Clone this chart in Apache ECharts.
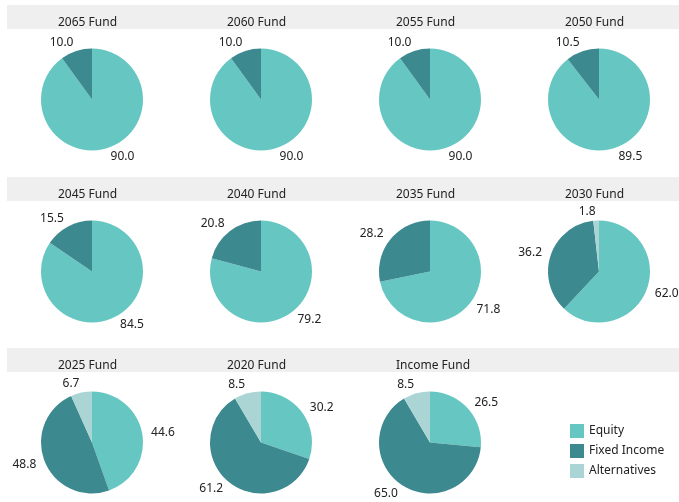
<!DOCTYPE html>
<html>
<head>
<meta charset="utf-8">
<script src="https://cdn.jsdelivr.net/npm/echarts@6/dist/echarts.min.js"></script>
<style>
html,body{margin:0;padding:0;background:#fff;}
#chart{width:679px;height:502px;}
</style>
</head>
<body>
<div id="chart"></div>
<script>
var funds = ['2065 Fund','2060 Fund','2055 Fund','2050 Fund','2045 Fund','2040 Fund','2035 Fund','2030 Fund','2025 Fund','2020 Fund','Income Fund'];
var equity = [90.0, 90.0, 90.0, 89.5, 84.5, 79.2, 71.8, 62.0, 44.6, 30.2, 26.5];
var fixedIncome = [10.0, 10.0, 10.0, 10.5, 15.5, 20.8, 28.2, 36.2, 48.8, 61.2, 65.0];
var alternatives = [0, 0, 0, 0, 0, 0, 0, 1.8, 6.7, 8.5, 8.5];
var assetClasses = ['Equity','Fixed Income','Alternatives'];
var colors = ['#66c7c2','#3d8990','#aad5d4'];

var chart = echarts.init(document.getElementById('chart'));
var font = 'Noto Sans';
var colX = [92, 261, 430, 599];
var rowY = [99.5, 271.5, 442.5];
var bandY = [5, 177, 348];

var series = [];
var titles = [];
var graphics = [];
bandY.forEach(function(y){
    graphics.push({type:'rect', shape:{x:7, y:y, width:672, height:24}, style:{fill:'#efefef'}, z:-1});
});
funds.forEach(function(name, i){
    var cx = colX[i % 4], cy = rowY[Math.floor(i / 4)];
    var vals = [equity[i], fixedIncome[i], alternatives[i]];
    var data = [];
    vals.forEach(function(v, k){
        if (v > 0) data.push({name: assetClasses[k], value: v, itemStyle:{color: colors[k]}});
    });
    titles.push({
        text: name, left: cx - 39, top: bandY[Math.floor(i / 4)] + 7,
        textStyle:{fontFamily: font, fontSize: 12, fontWeight: 'normal', color:'#222'}
    });
    series.push({
        type:'pie', name: name, center:[cx, cy], radius: 51,
        startAngle: 90, clockwise: true, avoidLabelOverlap: false,
        silent: true, animation: false,
        label:{show:true, position:'outside', formatter: function(p){ return p.value.toFixed(1); },
            fontFamily: font, fontSize: 12, color:'#222'},
        labelLine:{show:false, length:9, length2:-5},
        data: data
    });
});

var option = {
    animation: false,
    title: titles,
    legend: {
        data: assetClasses,
        orient: 'vertical', left: 565, top: 419,
        itemWidth: 14, itemHeight: 14, itemGap: 6,
        icon: 'rect',
        textStyle:{fontFamily: font, fontSize: 12, color:'#222'},
        selectedMode: false
    },
    color: colors,
    graphic: graphics,
    series: series
};
chart.setOption(option);
</script>
</body>
</html>
